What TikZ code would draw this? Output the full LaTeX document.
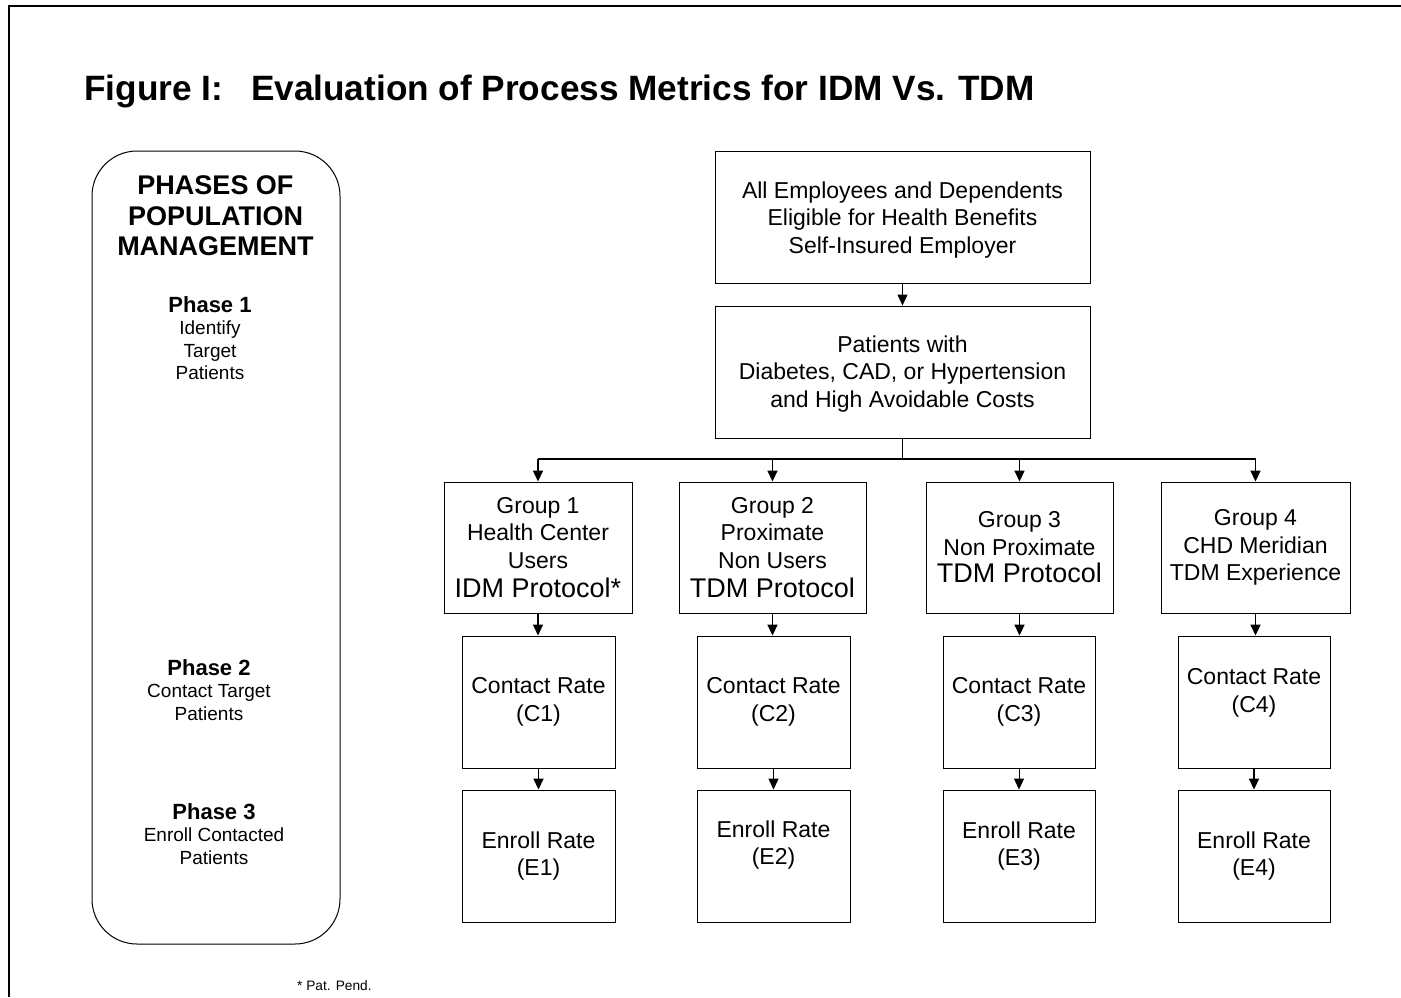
\documentclass[tikz,border=0pt]{standalone}
\usepackage{fontspec}
\setmainfont{Liberation Sans}
\usetikzlibrary{arrows.meta}

\begin{document}
\begin{tikzpicture}[x=1pt,y=-1pt,
  pbox/.style={draw, line width=0.9pt, rectangle, inner sep=0pt, align=center,
               font=\fontsize{23}{27.5}\selectfont},
  txt/.style={inner sep=0pt, align=center, font=\fontsize{23}{27.5}\selectfont},
  arr/.style={-{Triangle[length=11pt,width=10pt]}, line width=1pt},
  arrb/.style={-{Triangle[length=11pt,width=10pt]}, line width=1.6pt},
  hdr/.style={inner sep=0pt, align=center, font=\fontsize{27}{30.5}\selectfont\bfseries},
  phase/.style={inner sep=0pt, align=center, font=\fontsize{19}{22.5}\selectfont}
]
\useasboundingbox (0,0) rectangle (1401,997);

% outer frame (top and left edges)
\draw[line width=1.6pt] (9,997) -- (9,6) -- (1401,6);

% title
\node[anchor=base west, inner sep=0pt, font=\fontsize{35.2}{40}\selectfont\bfseries]
  (title) at (84,100) {Figure I:\hspace{28pt}Evaluation of Process Metrics for IDM Vs. TDM};

% phases panel
\node[draw, line width=1pt, rounded corners=45pt, minimum width=248, minimum height=793,
      inner sep=0pt] (phases) at (216,547.5) {};
\node[hdr] (phhdr) at (215.5,216) {PHASES OF\\POPULATION\\MANAGEMENT};
\node[phase] (ph1) at (210,338) {{\fontsize{22}{24}\selectfont\bfseries Phase 1}\\Identify\\Target\\Patients};
\node[phase] (ph2) at (209,690) {{\fontsize{22}{24}\selectfont\bfseries Phase 2}\\Contact Target\\Patients};
\node[phase] (ph3) at (214,834) {{\fontsize{22}{24}\selectfont\bfseries Phase 3}\\Enroll Contacted\\Patients};

% population boxes
\node[pbox, minimum width=375, minimum height=132] (pop) at (902.5,217) {};
\node[txt] (popt) at (902.5,220)
  {All Employees and Dependents\\Eligible for Health Benefits\\Self-Insured Employer};
\node[pbox, minimum width=375, minimum height=132] (pat) at (902.5,372) {};
\node[txt] (patt) at (902.5,374)
  {Patients with\\Diabetes, CAD, or Hypertension\\and High Avoidable Costs};

% group boxes
\node[pbox, minimum width=188, minimum height=131] (g1) at (538,547.5)
  {Group 1\\Health Center\\Users\\[2pt]{\fontsize{27}{30}\selectfont IDM Protocol*}};
\node[pbox, minimum width=187, minimum height=131] (g2) at (772.5,547.5)
  {Group 2\\Proximate\\Non Users\\[2pt]{\fontsize{27}{30}\selectfont TDM Protocol}};
\node[pbox, minimum width=187, minimum height=131] (g3) at (1019.5,547.5)
  {Group 3\\Non Proximate\\{\fontsize{27}{30}\selectfont TDM Protocol}};
\node[pbox, minimum width=189, minimum height=131] (g4) at (1255.5,547.5)
  {Group 4\\CHD Meridian\\TDM Experience};

% contact rate boxes
\node[pbox, minimum width=153, minimum height=132] (c1) at (538.5,702) {Contact Rate\\(C1)};
\node[pbox, minimum width=153, minimum height=132] (c2) at (773.5,702) {Contact Rate\\(C2)};
\node[pbox, minimum width=152, minimum height=132] (c3) at (1019,702) {Contact Rate\\(C3)};
\node[pbox, minimum width=152, minimum height=132] (c4) at (1254,702) {};
\node[txt] (c4t) at (1254,693) {Contact Rate\\(C4)};

% enroll rate boxes
\node[pbox, minimum width=153, minimum height=132] (e1) at (538.5,856) {Enroll Rate\\(E1)};
\node[pbox, minimum width=153, minimum height=132] (e2) at (773.5,856) {};
\node[txt] (e2t) at (773.5,845) {Enroll Rate\\(E2)};
\node[pbox, minimum width=152, minimum height=132] (e3) at (1019,856) {};
\node[txt] (e3t) at (1019,846) {Enroll Rate\\(E3)};
\node[pbox, minimum width=152, minimum height=132] (e4) at (1254,856) {Enroll Rate\\(E4)};

% connectors
\draw[arr] (pop.south) -- (pat.north);
\coordinate (bus) at (902.5,459);
\draw[line width=1pt] (pat.south) -- (bus);
\draw[line width=2pt] (g1.north |- bus) -- (g4.north |- bus);
\foreach \g in {g1,g2,g3,g4} {
  \draw[arrb] (\g.north |- bus) -- (\g.north);
}
\draw[arrb] (g1.south) -- (g1.south |- c1.north);
\draw[arrb] (c1.south) -- (e1.north);
\draw[arrb] (g2.south) -- (g2.south |- c2.north);
\draw[arr]  (c2.south) -- (e2.north);
\draw[arrb] (g3.south) -- (g3.south |- c3.north);
\draw[arr]  (c3.south) -- (e3.north);
\draw[arrb] (g4.south) -- (g4.south |- c4.north);
\draw[arrb] (c4.south) -- (e4.north);

% footnote
\node[anchor=base west, inner sep=0pt, font=\fontsize{13.7}{16}\selectfont] (note) at (297,990) {* Pat. Pend.};
\end{tikzpicture}
\end{document}
